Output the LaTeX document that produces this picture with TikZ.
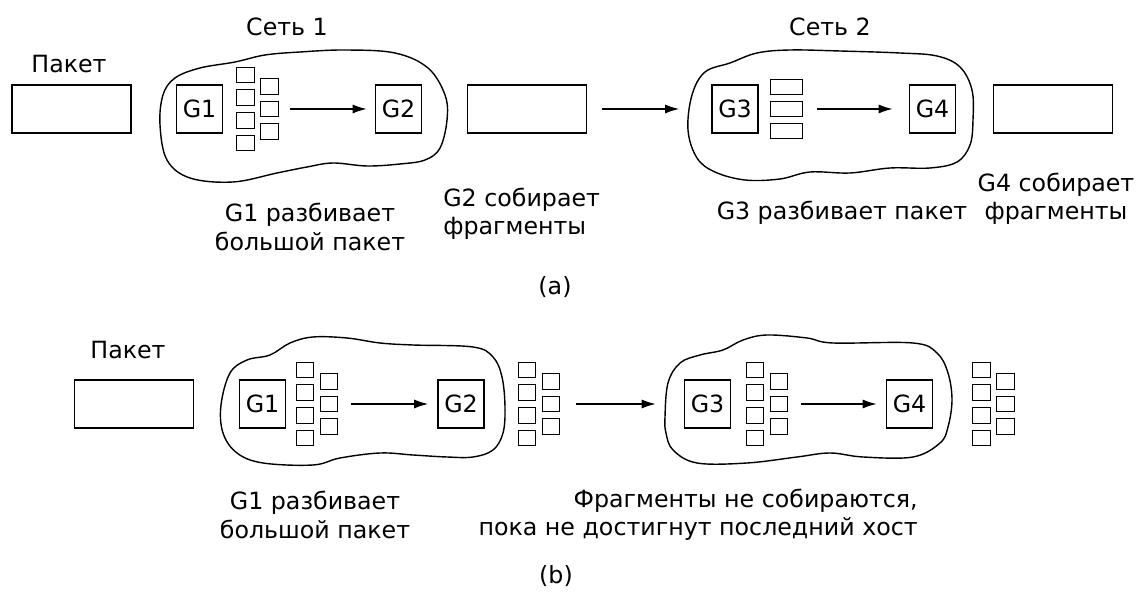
\documentclass[tikz,border=0pt]{standalone}
\usepackage{fontspec}
\setmainfont{DejaVu Sans}
\usetikzlibrary{arrows.meta}

% seven fragments: name, x, y (centre of the pack)
\newcommand{\fragpack}[3]{%
    \foreach \dy [count=\i] in {-34,-11.5,11.5,34}
        \node[frag] (#1-\i) at (#2,#3+\dy) {};
    \foreach \dy [count=\i from 5] in {-22.5,0,22.5}
        \node[frag] (#1-\i) at (#2+24,#3+\dy) {};
}

\begin{document}
\begin{tikzpicture}[x=0.02cm,y=-0.02cm]
    % Styling
    \tikzset{
        pkt/.style={draw, line width=0.9pt, minimum width=2.38cm, minimum height=0.96cm, inner sep=0pt},
        gate/.style={draw, line width=0.9pt, minimum width=0.92cm, minimum height=0.96cm, inner sep=0pt, font=\fontsize{13.5}{16}\selectfont},
        frag/.style={draw, line width=0.8pt, minimum width=0.35cm, minimum height=0.31cm, inner sep=0pt},
        wfrag/.style={frag, minimum width=0.64cm},
        net/.style={line width=0.8pt},
        arr/.style={line width=0.8pt, -{Latex[length=2.8mm,width=1.8mm]}},
        lbl/.style={font=\fontsize{13.5}{16}\selectfont, align=center, inner sep=0pt}
    }
    \useasboundingbox (0,0) rectangle (1137,597);

    % ---------- (a) ----------
    % Clouds
    \draw[net] plot[smooth cycle, tension=0.6] coordinates {
        (160,125) (163,95) (175,78) (200,68) (235,62) (265,55) (300,52)
        (345,50) (395,53) (428,68) (445,95) (447,120) (440,148) (425,160)
        (400,164) (367,166) (333,163) (307,167) (277,173) (233,182) (190,178) (167,160)};
    \draw[net] plot[smooth cycle, tension=0.6] coordinates {
        (688,130) (692,95) (705,72) (730,63) (757,53) (790,50) (840,51)
        (900,53) (937,56) (960,67) (972,90) (973,120) (970,145) (957,162)
        (930,168) (890,168) (850,173) (810,172) (780,179) (745,180) (715,172) (697,158)};

    % Packets and gateways
    \node[pkt] (pk1) at (71.5,109) {};
    \node[pkt] (pk2) at (527,109) {};
    \node[pkt] (pk3) at (1053,109) {};
    \node[gate] (g1a) at (199.5,109) {G1};
    \node[gate] (g2a) at (398.5,109) {G2};
    \node[gate] (g3a) at (735,109) {G3};
    \node[gate] (g4a) at (932.5,109) {G4};

    % Fragments
    \fragpack{fa}{245.5}{109}
    \foreach \y [count=\i] in {87,109,131}
        \node[wfrag] (wa-\i) at (786.5,\y) {};

    % Arrows
    \draw[arr] ([xshift=0.22cm]fa-6.east) -- ([xshift=-0.16cm]g2a.west);
    \draw[arr] ([xshift=0.3cm]pk2.east) -- ([xshift=-0.64cm]g3a.west);
    \draw[arr] ([xshift=0.28cm]wa-2.east) -- ([xshift=-0.32cm]g4a.west);

    % Labels
    \node[lbl] (lpk1) at (69,64) {Пакет};
    \node[lbl] (net1) at (287,27) {Сеть 1};
    \node[lbl] (net2) at (830,27) {Сеть 2};
    \node[lbl] (la1) at (310,227) {G1 разбивает\\большой пакет};
    \node[lbl, align=left, anchor=west] (la2) at (443,214) {G2 собирает\\фрагменты};
    \node[lbl] (la3) at (842,213) {G3 разбивает пакет};
    \node[lbl] (la4) at (1056,199) {G4 собирает\\фрагменты};
    \node[lbl] (capa) at (555,287) {(a)};

    % ---------- (b) ----------
    % Clouds
    \draw[net] plot[smooth cycle, tension=0.6] coordinates {
        (221,405) (230,373) (247,360) (270,355) (290,343) (313,337) (347,338)
        (380,343) (413,345) (473,347) (493,357) (502,377) (505,407) (503,433)
        (493,450) (473,457) (447,457) (413,455) (380,453) (340,458) (313,465)
        (263,463) (237,453) (223,433)};
    \draw[net] plot[smooth cycle, tension=0.6] coordinates {
        (665,417) (668,383) (680,363) (700,355) (723,350) (743,340) (767,335)
        (807,338) (833,343) (913,343) (937,353) (948,373) (952,400) (948,427)
        (940,443) (913,457) (863,457) (830,453) (797,457) (747,463) (697,463)
        (673,450) (666,433)};

    % Packet and gateways
    \node[pkt] (pk4) at (134,404) {};
    \node[gate] (g1b) at (262.5,404) {G1};
    \node[gate] (g2b) at (461,404) {G2};
    \node[gate] (g3b) at (707.5,404) {G3};
    \node[gate] (g4b) at (909.5,404) {G4};

    % Fragments
    \fragpack{fb}{305}{404}
    \fragpack{fc}{527}{404}
    \fragpack{fd}{755}{404}
    \fragpack{fe}{981.5}{404}

    % Arrows
    \draw[arr] ([xshift=0.25cm]fb-6.east) -- ([xshift=-0.18cm]g2b.west);
    \draw[arr] ([xshift=0.31cm]fc-6.east) -- ([xshift=-0.56cm]g3b.west);
    \draw[arr] ([xshift=0.25cm]fd-6.east) -- ([xshift=-0.18cm]g4b.west);

    % Labels
    \node[lbl] (lpk4) at (128,350) {Пакет};
    \node[lbl] (lb1) at (315,515) {G1 разбивает\\большой пакет};
    \node[lbl, align=right, anchor=east] (lb2) at (918,515) {Фрагменты не собираются,\\пока не достигнут последний хост};
    \node[lbl] (capb) at (556,576) {(b)};
\end{tikzpicture}
\end{document}
